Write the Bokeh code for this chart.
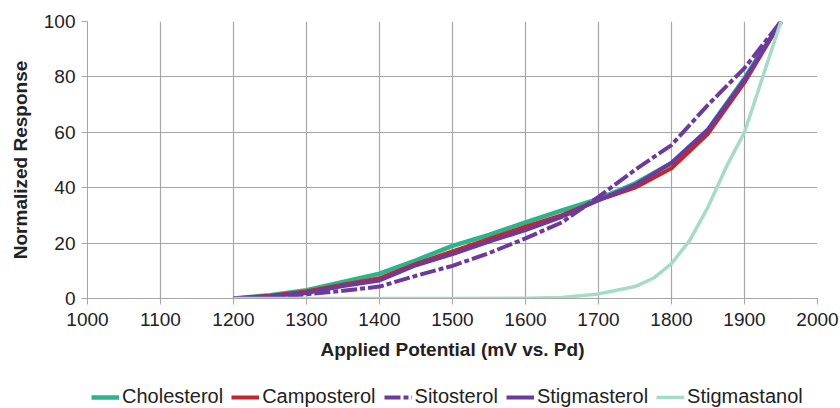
from bokeh.plotting import figure
from bokeh.models import Legend, LegendItem, FixedTicker, Range1d
from bokeh.layouts import column
from bokeh.embed import file_html
from bokeh.resources import INLINE

potential = [1200, 1250, 1300, 1350, 1400, 1450, 1500, 1550, 1600, 1650, 1700, 1750, 1800, 1850, 1900, 1950]
cholesterol = [0, 1.2, 3.0, 6.0, 9.0, 13.8, 19.0, 23.0, 27.5, 31.8, 36.0, 41.5, 48.8, 61.0, 79.5, 100]
campesterol = [0, 1.0, 2.5, 5.0, 7.3, 12.5, 17.0, 21.5, 25.9, 30.1, 35.5, 40.0, 47.0, 59.5, 78.0, 100]
sitosterol = [0, 0.5, 1.5, 2.8, 4.3, 8.2, 11.8, 16.4, 21.7, 27.5, 36.7, 46.4, 55.4, 69.9, 83.2, 100]
stigmasterol = [0, 0.8, 2.0, 4.5, 6.5, 12.0, 16.0, 20.5, 24.7, 29.5, 35.5, 41.0, 49.0, 61.0, 79.0, 100]
potential_stan = [1200, 1300, 1400, 1500, 1600, 1650, 1700, 1750, 1775, 1800, 1825, 1850, 1875, 1900, 1925, 1950]
stigmastanol = [0, 0, 0, 0, 0.1, 0.4, 1.6, 4.3, 7.3, 12.6, 21, 33, 47.5, 60, 80, 100]

series_names = ["Cholesterol", "Camposterol", "Sitosterol", "Stigmasterol", "Stigmastanol"]
series_colors = ["#2bb58f", "#c1272d", "#6b3a9a", "#6c3a9c", "#a6dcc6"]
series_widths = [4.5, 4, 4, 4, 3.5]
series_dashes = ["solid", "solid", "16 3 5 3", "solid", "solid"]

x_ticks = [1000, 1100, 1200, 1300, 1400, 1500, 1600, 1700, 1800, 1900, 2000]
y_ticks = [0, 20, 40, 60, 80, 100]

FONT = "Liberation Sans"
GRID = "#a6a6a6"
TEXT = "#222222"

p = figure(width=840, height=370, output_backend="svg", toolbar_location=None,
           x_range=Range1d(1000, 2000), y_range=Range1d(0, 100),
           min_border_left=87, min_border_right=23, min_border_top=21, min_border_bottom=72)
p.outline_line_color = None
p.background_fill_color = "white"
p.border_fill_color = "white"

for ax in (p.xaxis[0], p.yaxis[0]):
    ax.axis_line_color = GRID
    ax.major_tick_line_color = GRID
    ax.minor_tick_line_color = None
    ax.major_tick_out = 6
    ax.major_tick_in = 0
    ax.major_label_text_font = FONT
    ax.major_label_text_font_size = "19px"
    ax.major_label_text_color = TEXT
    ax.axis_label_text_font = FONT
    ax.axis_label_text_font_size = "19px"
    ax.axis_label_text_font_style = "bold"
    ax.axis_label_text_color = TEXT

p.xaxis.ticker = FixedTicker(ticks=x_ticks)
p.yaxis.ticker = FixedTicker(ticks=y_ticks)
p.xaxis.axis_label = "Applied Potential (mV vs. Pd)"
p.yaxis.axis_label = "Normalized Response"
p.xaxis.major_label_standoff = 8
p.yaxis.major_label_standoff = 6
p.xaxis.axis_label_standoff = 10
p.yaxis.axis_label_standoff = 10
p.xgrid.ticker = FixedTicker(ticks=x_ticks)
p.ygrid.ticker = FixedTicker(ticks=y_ticks)
p.xgrid.grid_line_color = GRID
p.ygrid.grid_line_color = GRID
p.xgrid.grid_line_width = 1.2
p.ygrid.grid_line_width = 1.2

xs = [potential, potential, potential, potential, potential_stan]
ys = [cholesterol, campesterol, sitosterol, stigmasterol, stigmastanol]
for xv, yv, c, w, d in zip(xs, ys, series_colors, series_widths, series_dashes):
    p.line(xv, yv, line_color=c, line_width=w, line_dash=d)

# legend strip below the chart (its lines use the same data, outside its view)
pl = figure(width=840, height=38, output_backend="svg", toolbar_location=None,
            x_range=Range1d(0, 1), y_range=Range1d(0, 1),
            min_border_left=0, min_border_right=0, min_border_top=0, min_border_bottom=0)
pl.axis.visible = False
pl.grid.visible = False
pl.outline_line_color = None
pl.border_fill_color = "white"
items = []
for name, xv, yv, c, w, d in zip(series_names, xs, ys, series_colors, series_widths, series_dashes):
    r = pl.line(xv, yv, line_color=c, line_width=w, line_dash=d)
    items.append(LegendItem(label=name, renderers=[r]))

legend = Legend(items=items, orientation="horizontal", location=(4, 0),
                label_text_font=FONT, label_text_font_size="20px", label_text_color=TEXT,
                glyph_width=28, label_standoff=3, spacing=8, padding=0, margin=0,
                border_line_color=None, background_fill_alpha=0)
pl.add_layout(legend, "center")

layout = column(p, pl, spacing=0)
open("out.html", "w").write(file_html(layout, INLINE))
